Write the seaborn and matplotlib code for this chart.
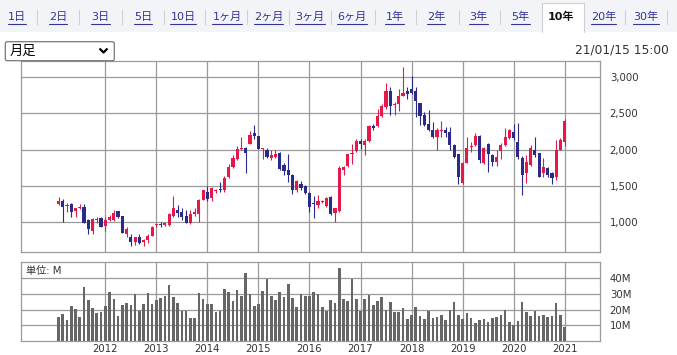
import numpy as np
import pandas as pd
import seaborn as sns
import matplotlib.pyplot as plt
from matplotlib.patches import Rectangle, FancyBboxPatch

# monthly candles, Feb 2011 - Jan 2021
months = pd.date_range('2011-02-01', periods=120, freq='MS')

opens = [1252, 1293, 1230, 1252, 1160, 1195, 1206, 1032, 886, 1030,
         1055, 950, 1032, 1032, 1156, 1087, 840, 794, 726, 794,
         726, 762, 817, 960, 968, 958, 960, 1087, 1169, 1146,
         1087, 995, 1115, 1110, 1310, 1420, 1330, 1435, 1460, 1440,
         1620, 1756, 1865, 2005, 2018, 2080, 2225, 2180, 2005, 2000,
         1890, 1900, 1955, 1783, 1720, 1653, 1440, 1527, 1495, 1405,
         1260, 1235, 1280, 1225, 1350, 1125, 1160, 1720, 1773, 1935,
         1982, 2114, 2060, 2114, 2320, 2320, 2457, 2583, 2800, 2610,
         2630, 2740, 2798, 2825, 2798, 2637, 2469, 2345, 2273, 2173,
         2255, 2264, 2241, 2068, 1936, 1535, 1819, 2040, 2060, 2185,
         1810, 2082, 1923, 1832, 1982, 2060, 2153, 2245, 2105, 1890,
         1673, 1787, 2000, 1947, 1673, 1741, 1673, 1618, 2000, 2108]
highs = [1353, 1316, 1260, 1270, 1200, 1250, 1250, 1040, 1060, 1069,
         1070, 1069, 1105, 1169, 1160, 1090, 940, 840, 800, 840,
         770, 840, 945, 990, 1010, 995, 1123, 1361, 1238, 1192,
         1170, 1169, 1190, 1320, 1445, 1500, 1490, 1460, 1560, 1630,
         1800, 1930, 2045, 2170, 2030, 2250, 2330, 2190, 2025, 2015,
         1990, 1990, 1960, 1810, 1945, 1660, 1585, 1563, 1518, 1415,
         1360, 1380, 1310, 1345, 1355, 1200, 1773, 1775, 1945, 2080,
         2140, 2140, 2140, 2330, 2345, 2560, 2625, 2910, 2855, 2650,
         2830, 3130, 2855, 3015, 2855, 2640, 2515, 2540, 2380, 2290,
         2390, 2310, 2310, 2075, 1945, 1833, 2167, 2110, 2230, 2200,
         2040, 2090, 1937, 1990, 2085, 2290, 2280, 2355, 2360, 1910,
         1925, 2060, 2167, 1955, 1880, 1765, 1695, 2130, 2160, 2414]
lows = [1240, 1009, 1146, 1069, 1069, 1180, 990, 836, 836, 986,
        930, 877, 1020, 1023, 1060, 850, 794, 680, 694, 708,
        672, 712, 808, 940, 932, 950, 950, 1069, 1078, 1032,
        986, 977, 1080, 1000, 1300, 1295, 1290, 1400, 1410, 1415,
        1610, 1745, 1855, 1990, 1675, 2070, 2150, 2005, 1865, 1890,
        1855, 1880, 1720, 1650, 1560, 1383, 1415, 1450, 1383, 1145,
        1060, 1200, 1265, 1215, 1100, 1010, 1146, 1650, 1765, 1800,
        1970, 2010, 1920, 2105, 2265, 2310, 2450, 2560, 2470, 2470,
        2525, 2730, 2700, 2765, 2450, 2330, 2320, 2250, 2165, 2000,
        2173, 2173, 2000, 1880, 1527, 1526, 1810, 1970, 2050, 1810,
        1800, 1695, 1773, 1773, 1865, 2050, 2140, 2130, 1876, 1375,
        1545, 1770, 1900, 1620, 1627, 1627, 1526, 1580, 1990, 2050]
closes = [1298, 1215, 1240, 1146, 1192, 1210, 995, 904, 1041, 1041,
          940, 1032, 1069, 1133, 1069, 858, 908, 726, 794, 720,
          762, 817, 931, 968, 960, 986, 1114, 1192, 1123, 1069,
          995, 1114, 1140, 1310, 1440, 1315, 1473, 1445, 1440, 1608,
          1765, 1880, 2013, 2027, 1955, 2206, 2180, 2013, 2015, 1900,
          1923, 1945, 1730, 1711, 1653, 1440, 1563, 1468, 1405, 1212,
          1245, 1290, 1290, 1338, 1110, 1190, 1741, 1755, 1937, 1950,
          2114, 2082, 2118, 2320, 2290, 2457, 2592, 2810, 2592, 2625,
          2730, 2775, 2765, 2780, 2665, 2455, 2332, 2264, 2173, 2264,
          2268, 2232, 2068, 1900, 1626, 1819, 2027, 2050, 2185, 1855,
          2025, 1937, 1832, 1900, 2060, 2176, 2268, 2153, 1900, 1650,
          1833, 2027, 1923, 1627, 1755, 1650, 1604, 2000, 2130, 2396]
volumes = [15.3, 17.2, 13.4, 22.3, 20.4, 15.3, 34.5, 26.2, 21.1, 17.9,
           18.5, 22.3, 31.3, 26.8, 16.0, 23.0, 24.3, 23.0, 30.0, 19.1,
           23.6, 30.6, 23.6, 26.2, 27.4, 28.7, 35.7, 28.1, 24.3, 19.1,
           19.1, 14.7, 14.7, 30.6, 26.8, 23.6, 23.6, 18.5, 19.1, 33.2,
           31.3, 25.5, 32.6, 28.7, 43.4, 30.0, 22.3, 23.6, 31.9, 39.6,
           28.7, 26.2, 31.3, 28.1, 36.4, 27.4, 21.7, 30.0,
           28.9, 28.9, 31.3, 30.0, 21.7, 19.1, 26.2, 24.3, 46.6, 26.8,
           25.5, 39.6, 26.8, 19.1, 26.8, 29.4, 23.0, 25.5, 28.1, 19.8,
           24.9, 18.5, 18.5, 21.1, 14.0, 16.6, 21.7, 16.0, 14.0, 19.1,
           14.7, 15.3, 16.6, 13.4, 19.8, 24.9, 16.6, 14.0, 17.9, 14.7,
           11.5, 13.4, 14.0, 12.1, 14.7, 15.3, 16.6, 19.8, 12.1, 10.2,
           12.8, 24.9, 18.5, 16.0, 19.1, 16.0, 16.6, 15.3, 16.0, 24.3,
           16.6, 8.9]

years = list(range(2012, 2022))
price_ticks = [1000, 1500, 2000, 2500, 3000]
vol_ticks = [10, 20, 30, 40]
tab_labels = ['1日', '2日', '3日', '5日', '10日', '1ヶ月', '2ヶ月', '3ヶ月',
              '6ヶ月', '1年', '2年', '3年', '5年', '10年', '20年', '30年']
active_tab = '10年'
period_label = '月足'
stamp = '21/01/15 15:00'

df = pd.DataFrame({'open': opens, 'high': highs, 'low': lows,
                   'close': closes, 'volume': volumes})
df['t'] = months.year + (months.month - 1) / 12

RED = '#e3194b'
BLUE = '#2b2a8a'
GRID = '#9a9a9a'
TXT = '#333333'

sns.set_style('white')
plt.rcParams['font.family'] = ['DejaVu Sans', 'Noto Sans CJK JP']

fig = plt.figure(figsize=(6.77, 3.55), dpi=100)
W, H = 677, 355

def box(x0, y0, x1, y1):
    return [x0 / W, 1 - y1 / H, (x1 - x0) / W, (y1 - y0) / H]

xlim = (2010.348, 2021.692)

# ---- price panel
ax = fig.add_axes(box(21, 61, 600, 252))
up = df['close'] >= df['open']
colors = np.where(up, RED, BLUE)
ax.vlines(df['t'], df['low'], df['high'], colors=colors, lw=0.8, zorder=3)
body = np.maximum((df['close'] - df['open']).abs(), 12)
ax.bar(df['t'], body, bottom=np.minimum(df['open'], df['close']),
       width=0.062, color=colors, lw=0, zorder=4)
ax.set_xlim(*xlim)
ax.set_ylim(592, 3216)
ax.set_xticks(years)
ax.set_yticks(price_ticks)
ax.set_yticklabels([f'{v:,}' for v in price_ticks])
ax.yaxis.tick_right()
ax.tick_params(axis='x', length=0, labelbottom=False)
ax.tick_params(axis='y', length=0, pad=7, labelsize=7.3, labelcolor=TXT)
ax.grid(True, color=GRID, lw=0.9)
for s in ax.spines.values():
    s.set_color(GRID)
    s.set_linewidth(0.9)

# ---- volume panel
axv = fig.add_axes(box(21, 262.3, 600, 341))
sns.barplot(data=df, x='t', y='volume', native_scale=True, color='#666666',
            saturation=1, width=0.62, errorbar=None, linewidth=0, ax=axv,
            zorder=3)
axv.set_xlim(*xlim)
axv.set_ylim(0, 50)
axv.set_xlabel('')
axv.set_ylabel('')
axv.set_xticks(years)
axv.set_xticklabels([str(y) for y in years])
axv.set_yticks(vol_ticks)
axv.set_yticklabels([f'{v}M' for v in vol_ticks])
axv.yaxis.tick_right()
axv.tick_params(axis='x', length=0, pad=2.5, labelsize=7.3, labelcolor=TXT)
axv.tick_params(axis='y', length=0, pad=7, labelsize=7.3, labelcolor=TXT)
axv.grid(True, color=GRID, lw=0.9)
axv.set_axisbelow(True)
for s in axv.spines.values():
    s.set_color(GRID)
    s.set_linewidth(0.9)
axv.text(0.009, 0.89, '単位: M', transform=axv.transAxes, fontsize=7.3,
         color=TXT, va='center', ha='left', zorder=5)

# ---- header overlay (pixel coords)
ov = fig.add_axes([0, 0, 1, 1], zorder=10)
ov.set_xlim(0, W)
ov.set_ylim(H, 0)
ov.axis('off')
ov.patch.set_alpha(0)

ov.add_patch(Rectangle((0, 0), W, 31.7, facecolor='#f3f4f8', lw=0))
ov.add_patch(Rectangle((542, 3.3), 42, 29, facecolor='white', lw=0))
ov.plot([542, 542, 584, 584], [32, 3.3, 3.3, 32], color='#cfcfcf', lw=0.8)

centers = [16.7, 58, 100.5, 143, 183, 227, 268.5, 310, 352, 394.5, 436,
           478.5, 520.5, 561, 603.5, 646]
seps = [37.3, 79, 121.7, 164, 205.3, 247.3, 289, 331, 374.7, 416.3,
        458.7, 500.3, 625.3, 667]
for sx in seps:
    ov.plot([sx, sx], [10, 24], color='#d0d0d0', lw=0.8)

links = []
for lab, cx in zip(tab_labels, centers):
    if lab == active_tab:
        ov.text(cx, 17, lab, ha='center', va='center', fontsize=8,
                fontweight='bold', color='#111111')
    else:
        links.append(ov.text(cx, 17, lab, ha='center', va='center',
                             fontsize=8, color='#33339a'))

ov.add_patch(FancyBboxPatch((5.3, 41.7), 109, 19,
                            boxstyle='round,pad=0,rounding_size=2',
                            facecolor='white', edgecolor='#767676', lw=0.9))
ov.text(10, 51.5, period_label, ha='left', va='center', fontsize=9.5,
        color='black')
ov.plot([99.5, 103.5, 107.5], [48.5, 52.5, 48.5], color='black', lw=1.6,
        solid_capstyle='butt')
ov.text(669, 50, stamp, ha='right', va='center', fontsize=8.8, color=TXT)

fig.canvas.draw()
rend = fig.canvas.get_renderer()
inv = ov.transData.inverted()
for t in links:
    bb = t.get_window_extent(rend)
    x0 = inv.transform((bb.x0, 0))[0]
    x1 = inv.transform((bb.x1, 0))[0]
    ov.plot([x0, x1], [23.5, 23.5], color='#33339a', lw=0.8)

fig.savefig('out.png', dpi=100)
